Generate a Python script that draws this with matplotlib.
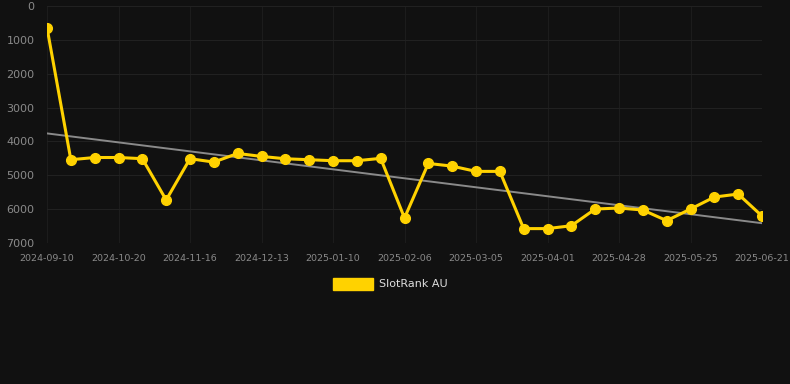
import matplotlib
matplotlib.use("Agg")
import matplotlib.pyplot as plt
import numpy as np
from matplotlib.patches import Rectangle

tick_labels = ["2024-09-10", "2024-10-20", "2024-11-16", "2024-12-13", "2025-01-10",
               "2025-02-06", "2025-03-05", "2025-04-01", "2025-04-28", "2025-05-25",
               "2025-06-21"]
ranks = [640, 4540, 4475, 4475, 4510, 5730, 4510, 4610, 4355, 4443,
         4512, 4540, 4570, 4570, 4500, 6260, 4650, 4730, 4885, 4885,
         6575, 6575, 6490, 5997, 5967, 6026, 6340, 5997, 5643, 5554, 6203]
series_name = "SlotRank AU"

bg = "#111111"
gold = "#FFD200"

fig = plt.figure(figsize=(7.9, 3.84), dpi=100, facecolor=bg)
ax = fig.add_axes([47/790, 1-243/384, (762-47)/790, (243-6)/384])
ax.set_facecolor(bg)

x = np.arange(len(ranks))
coef = np.polyfit(x, ranks, 1)
ax.plot(x, np.polyval(coef, x), color="#8a8a8a", lw=1.4, zorder=2)
ax.plot(x, ranks, color=gold, lw=2.2, marker="o", ms=7, zorder=3, label=series_name)

ax.set_xlim(0, len(ranks)-1)
ax.set_ylim(7000, 0)
ax.set_yticks(range(0, 7001, 1000))
ax.set_xticks(x[::3])
ax.set_xticklabels(tick_labels)
ax.grid(True, axis="y", color="#212121", lw=0.8)
ax.grid(True, axis="x", color="#1c1c1c", lw=0.8)
ax.set_axisbelow(True)
for s in ax.spines.values():
    s.set_visible(False)
ax.tick_params(axis="y", length=0, pad=9, labelsize=8, labelcolor="#8a8a8a")
ax.tick_params(axis="x", length=0, pad=8, labelsize=6.8, labelcolor="#8a8a8a")

fig.patches.append(Rectangle((333/790, 1-290/384), 40/790, 12/384,
                             transform=fig.transFigure, color=gold))
fig.text(379/790, 1-284/384, series_name, color="#dddddd", fontsize=8, va="center", ha="left")

fig.savefig("out.png", dpi=100, facecolor=bg)
